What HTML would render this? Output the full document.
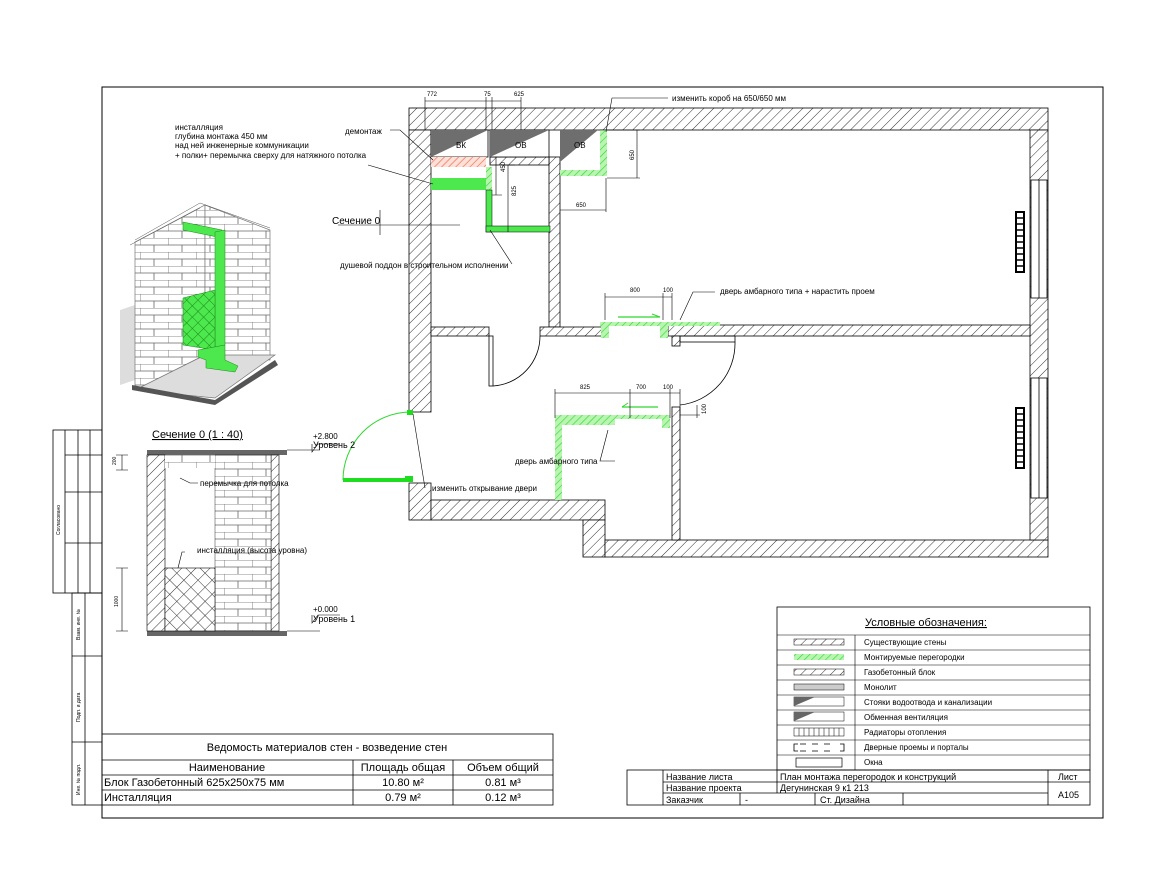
<!DOCTYPE html>
<html><head><meta charset="utf-8"><style>
html,body{margin:0;padding:0;background:#fff}
svg{display:block}
text{font-family:"Liberation Sans","DejaVu Sans",sans-serif;fill:#000}
.s{font-size:9px}
.t{font-size:11px}
</style></head><body>
<svg width="1155" height="893" viewBox="0 0 1155 893" xmlns="http://www.w3.org/2000/svg">
<defs>
<pattern id="h" width="7" height="7" patternUnits="userSpaceOnUse" patternTransform="rotate(45)">
<rect width="7" height="7" fill="#fff"/><line x1="0" y1="0" x2="0" y2="7" stroke="#333" stroke-width="1"/></pattern>
<pattern id="hg" width="5" height="5" patternUnits="userSpaceOnUse" patternTransform="rotate(45)">
<rect width="5" height="5" fill="#b8f5b0"/><line x1="0" y1="0" x2="0" y2="5" stroke="#2ed62e" stroke-width="1.2"/></pattern>
<pattern id="hr" width="5" height="5" patternUnits="userSpaceOnUse" patternTransform="rotate(45)">
<rect width="5" height="5" fill="#fde0d8"/><line x1="0" y1="0" x2="0" y2="5" stroke="#f06040" stroke-width="1.2"/></pattern>
<pattern id="x" width="10" height="10" patternUnits="userSpaceOnUse" patternTransform="rotate(45)">
<rect width="10" height="10" fill="#fff"/><line x1="0" y1="0" x2="0" y2="10" stroke="#333"/><line x1="0" y1="0" x2="10" y2="0" stroke="#333"/></pattern>
<pattern id="xg" width="8" height="8" patternUnits="userSpaceOnUse" patternTransform="rotate(45)">
<rect width="8" height="8" fill="#4de84d"/><line x1="0" y1="0" x2="0" y2="8" stroke="#1a8a1a"/><line x1="0" y1="0" x2="8" y2="0" stroke="#1a8a1a"/></pattern>
<pattern id="br" width="28" height="14" patternUnits="userSpaceOnUse">
<rect width="28" height="14" fill="#fff"/><path d="M0 0H28M0 7H28M0 0V7M14 7V14" stroke="#666" stroke-width="0.8" fill="none"/></pattern>
</defs>

<rect x="102" y="87" width="1001" height="731" fill="none" stroke="#000" stroke-width="1"/>
<g stroke="#000" stroke-width="0.8" fill="none">
<rect x="53" y="430" width="49" height="163"/>
<line x1="65" y1="430" x2="65" y2="593"/><line x1="78" y1="430" x2="78" y2="593"/><line x1="90" y1="430" x2="90" y2="593"/>
<line x1="65" y1="455" x2="102" y2="455"/><line x1="65" y1="492" x2="102" y2="492"/><line x1="65" y1="543" x2="102" y2="543"/>
<rect x="72" y="593" width="30" height="212"/>
<line x1="85" y1="593" x2="85" y2="805"/>
<line x1="72" y1="656" x2="102" y2="656"/><line x1="72" y1="742" x2="102" y2="742"/>
</g>
<text font-size="5" transform="translate(60,535) rotate(-90)">Согласовано</text>
<text font-size="5" transform="translate(80,640) rotate(-90)">Взам. инв. №</text>
<text font-size="5" transform="translate(80,722) rotate(-90)">Подп. и дата</text>
<text font-size="5" transform="translate(80,795) rotate(-90)">Инв. № подл.</text>

<g fill="url(#h)" stroke="#000" stroke-width="0.8">
<rect x="409" y="108" width="639" height="22"/>
<rect x="409" y="130" width="22" height="282"/>
<rect x="409" y="483" width="22" height="37"/>
<rect x="431" y="500" width="174" height="20"/>
<rect x="583" y="520" width="22" height="37"/>
<rect x="605" y="540" width="443" height="17"/>
<rect x="1030" y="130" width="18" height="410"/>
<rect x="549" y="157" width="11" height="170"/>
<rect x="490" y="157" width="59" height="8"/>
<rect x="431" y="327" width="58" height="9"/>
<rect x="540" y="327" width="62" height="9"/>
<rect x="668" y="325" width="362" height="11"/>
<rect x="672" y="336" width="8" height="10"/>
<rect x="672" y="407" width="8" height="133"/>
</g>
<g fill="#fff" stroke="#000" stroke-width="0.8">
<rect x="1031" y="180" width="16" height="118"/><line x1="1039" y1="180" x2="1039" y2="298"/>
<rect x="1031" y="378" width="16" height="120"/><line x1="1039" y1="378" x2="1039" y2="498"/>
</g>
<g fill="#fff" stroke="#000" stroke-width="2">
<rect x="1016" y="212" width="8" height="60"/><rect x="1016" y="408" width="8" height="60"/>
</g>
<g stroke="#000" stroke-width="1.4">
<path d="M1016 218H1024M1016 224H1024M1016 230H1024M1016 236H1024M1016 242H1024M1016 248H1024M1016 254H1024M1016 260H1024M1016 266H1024"/>
<path d="M1016 414H1024M1016 420H1024M1016 426H1024M1016 432H1024M1016 438H1024M1016 444H1024M1016 450H1024M1016 456H1024M1016 462H1024"/>
</g>
<rect x="431" y="130" width="57" height="27" fill="#fff" stroke="#000" stroke-width="0.8"/>
<path d="M431 130H488L431 157Z" fill="#6e6e6e"/>
<text x="456" y="148" font-size="8">ВК</text>
<rect x="490" y="130" width="59" height="27" fill="#fff" stroke="#000" stroke-width="0.8"/>
<path d="M490 130H549L490 157Z" fill="#6e6e6e"/>
<text x="515" y="148" font-size="8">ОВ</text>
<path d="M560 130H598L560 162Z" fill="#6e6e6e"/>
<text x="574" y="148" font-size="8">ОВ</text>
<rect x="431" y="157" width="55" height="10" fill="url(#hr)"/>
<rect x="431" y="178" width="55" height="12" fill="#4de84d"/>
<rect x="486" y="167" width="6" height="24" fill="url(#hg)"/>
<rect x="486" y="190" width="6" height="42" fill="#4de84d" stroke="#000" stroke-width="0.5"/>
<rect x="486" y="226" width="64" height="6" fill="#4de84d" stroke="#000" stroke-width="0.5"/>
<rect x="600" y="130" width="7" height="46" fill="url(#hg)"/>
<rect x="560" y="170" width="47" height="6" fill="url(#hg)"/>
<rect x="600" y="322" width="120" height="4" fill="url(#hg)"/>
<rect x="601" y="324" width="8" height="14" fill="url(#hg)"/>
<rect x="660" y="324" width="8" height="14" fill="url(#hg)"/>
<path d="M618 317H660" stroke="#2ed62e" stroke-width="1.2"/><path d="M652 314L660 317" stroke="#2ed62e"/>
<rect x="555" y="415" width="115" height="4" fill="url(#hg)"/>
<rect x="555" y="418" width="60" height="7" fill="url(#hg)"/>
<rect x="555" y="418" width="7" height="82" fill="url(#hg)"/>
<rect x="662" y="418" width="8" height="10" fill="url(#hg)"/>
<path d="M622 407H658" stroke="#2ed62e" stroke-width="1.2"/><path d="M622 407L628 403" stroke="#2ed62e"/>
<g fill="none" stroke="#000" stroke-width="0.8">
<rect x="489" y="336" width="4" height="50"/>
<path d="M493 386A50 50 0 0 0 540 336"/>
<rect x="680" y="336" width="55" height="6"/>
<path d="M735 342A62 62 0 0 1 680 405"/>
</g>
<path d="M410 412A68 68 0 0 0 343 480" fill="none" stroke="#2ed62e" stroke-width="1"/>
<rect x="343" y="478" width="62" height="4" fill="#1edc1e"/>
<rect x="405" y="476" width="8" height="6" fill="#1edc1e"/>
<rect x="407" y="410" width="6" height="5" fill="#1edc1e"/>

<g stroke="#000" stroke-width="0.6" fill="none">
<path d="M425 101H521M425 97V130M486 97V130M492 97V130M521 97V130"/>
<path d="M496 157V195M492 195H502"/>
<path d="M508 165V232M504 165H515"/>
<path d="M637 130V178M607 178H640M600 130H640"/>
<path d="M560 210H606M606 178V212"/>
<path d="M605 297H672M605 293V320M663 293V320M672 293V320"/>
<path d="M555 393H680M555 389V418M630 389V418M670 389V418M680 389V418"/>
<path d="M680 415H700M697 405V418"/>
</g>
<g font-size="6">
<text x="427" y="96">772</text><text x="484" y="96">75</text><text x="514" y="96">625</text>
<text x="630" y="160" transform="rotate(-90 632 158)">650</text>
<text x="576" y="207">650</text>
<text x="630" y="292">800</text><text x="663" y="292">100</text>
<text x="580" y="389">825</text><text x="636" y="389">700</text><text x="663" y="389">100</text>
<text x="499" y="178" transform="rotate(-90 499 172)">450</text>
<text x="512" y="200" transform="rotate(-90 512 196)">825</text>
<text x="701" y="415" transform="rotate(-90 703 412)">100</text>
</g>

<g stroke="#000" stroke-width="0.6" fill="none">
<path d="M668 98H612L606 132"/>
<path d="M715 292H693L680 320"/>
<path d="M390 130H400L433 160"/>
<path d="M368 165L433 184"/>
<path d="M512 264L490 230"/>
<path d="M615 461H600L608 430"/>
<path d="M425 488L413 414"/>
<path d="M338 225H460M380 210V235"/>
</g>
<g font-size="8">
<text x="672" y="101">изменить короб на 650/650 мм</text>
<text x="720" y="294">дверь амбарного типа + нарастить проем</text>
<text x="345" y="134">демонтаж</text>
<text x="340" y="268">душевой поддон в строительном исполнении</text>
<text x="515" y="464">дверь амбарного типа</text>
<text x="432" y="491">изменить открывание двери</text>
<text x="175" y="130">инсталляция</text>
<text x="175" y="139">глубина монтажа 450 мм</text>
<text x="175" y="148">над ней инженерные коммуникации</text>
<text x="175" y="158">+ полки+ перемычка сверху для натяжного потолка</text>
</g>
<text x="332" y="224" font-size="10">Сечение 0</text>

<g stroke="#777" stroke-width="0.7">
<polygon points="120,310 135,305 135,380 120,385" fill="#ddd" stroke="none"/>
<polygon points="135,242 205,205 205,355 135,390" fill="url(#br)"/>
<polygon points="205,205 270,230 270,360 205,355" fill="url(#br)"/>
<polygon points="135,390 205,355 275,355 215,398" fill="#ddd"/>
<polygon points="132,385 215,400 275,360 278,365 215,405 132,390" fill="#555" stroke="none"/>
</g>
<g stroke="#1a8a1a" stroke-width="0.5">
<polygon points="183,222 222,230 222,238 183,230" fill="#4de84d"/>
<polygon points="215,232 225,230 225,345 215,350" fill="#4de84d"/>
<polygon points="183,298 215,290 215,350 183,345" fill="url(#xg)"/>
<polygon points="198,350 225,345 225,360 238,366 235,372 206,368 206,360 198,357" fill="#4de84d"/>
</g>
<g stroke="#555" stroke-width="0.5" fill="none"><path d="M135 240L200 203L270 228M130 245L200 208"/></g>

<text x="152" y="438" font-size="11" text-decoration="underline">Сечение 0 (1 : 40)</text>
<rect x="147" y="450" width="140" height="5" fill="#666"/>
<rect x="147" y="631" width="140" height="5" fill="#666"/>
<rect x="147" y="455" width="18" height="176" fill="url(#h)" stroke="#000" stroke-width="0.6"/>
<rect x="271" y="455" width="8" height="176" fill="url(#h)" stroke="#000" stroke-width="0.6"/>
<rect x="215" y="455" width="56" height="176" fill="url(#br)" stroke="#000" stroke-width="0.4"/>
<rect x="165" y="455" width="50" height="13" fill="url(#br)" stroke="none"/>
<rect x="165" y="568" width="50" height="63" fill="url(#x)" stroke="#000" stroke-width="0.6"/>
<g stroke="#000" stroke-width="0.6" fill="none">
<path d="M287 450H320M287 631H320"/>
<path d="M122 455V470M116 455H128M116 470H128"/>
<path d="M122 568V631M116 568H128M116 631H128"/>
<path d="M180 478L190 483H198"/>
<path d="M178 568L182 552H185"/>
<path d="M312 444V452L318 444H340M312 615V623L318 615H340"/>
</g>
<text x="116" y="465" font-size="5" transform="rotate(-90 116 465)">200</text>
<text x="118" y="607" font-size="5" transform="rotate(-90 118 607)">1000</text>
<text x="200" y="486" font-size="8">перемычка для потолка</text>
<text x="197" y="553" font-size="8">инсталляция (высота уровна)</text>
<text x="313" y="439" font-size="8">+2.800</text><text x="313" y="448" font-size="9">Уровень 2</text>
<text x="313" y="612" font-size="8">+0.000</text><text x="313" y="622" font-size="9">Уровень 1</text>

<g stroke="#000" stroke-width="0.8" fill="none">
<rect x="102" y="734" width="451" height="71"/>
<line x1="102" y1="760" x2="553" y2="760"/>
<line x1="102" y1="775" x2="553" y2="775"/>
<line x1="102" y1="790" x2="553" y2="790"/>
<line x1="353" y1="760" x2="353" y2="805"/>
<line x1="453" y1="760" x2="453" y2="805"/>
</g>
<text x="327" y="751" class="t" text-anchor="middle">Ведомость материалов стен - возведение стен</text>
<text x="227" y="771" class="t" text-anchor="middle">Наименование</text>
<text x="403" y="771" class="t" text-anchor="middle">Площадь общая</text>
<text x="503" y="771" class="t" text-anchor="middle">Объем общий</text>
<text x="104" y="786" class="t">Блок Газобетонный 625x250x75 мм</text>
<text x="403" y="786" class="t" text-anchor="middle">10.80 м²</text>
<text x="503" y="786" class="t" text-anchor="middle">0.81 м³</text>
<text x="104" y="801" class="t">Инсталляция</text>
<text x="403" y="801" class="t" text-anchor="middle">0.79 м²</text>
<text x="503" y="801" class="t" text-anchor="middle">0.12 м³</text>

<g stroke="#000" stroke-width="0.8" fill="#fff">
<rect x="777" y="607" width="313" height="163"/>
</g>
<g stroke="#000" stroke-width="0.6">
<path d="M777 635H1090M777 650H1090M777 665H1090M777 680H1090M777 695H1090M777 710H1090M777 725H1090M777 740H1090M777 755H1090M855 635V770"/>
</g>
<text x="865" y="626" font-size="11" text-decoration="underline">Условные обозначения:</text>
<rect x="794" y="639" width="50" height="6" fill="url(#h)" stroke="#000" stroke-width="0.5"/>
<rect x="794" y="654" width="50" height="6" fill="url(#hg)"/>
<rect x="794" y="669" width="50" height="6" fill="url(#h)" stroke="#000" stroke-width="0.5"/>
<rect x="794" y="684" width="50" height="6" fill="#ccc" stroke="#000" stroke-width="0.5"/>
<rect x="794" y="697" width="50" height="9" fill="#fff" stroke="#000" stroke-width="0.5"/><path d="M794 697H815L794 706Z" fill="#666"/>
<rect x="794" y="712" width="50" height="9" fill="#fff" stroke="#000" stroke-width="0.5"/><path d="M794 712H815L794 721Z" fill="#666"/>
<rect x="794" y="728" width="50" height="8" fill="#fff" stroke="#000" stroke-width="0.5"/>
<path d="M799 728V736M804 728V736M809 728V736M814 728V736M819 728V736M824 728V736M829 728V736M834 728V736M839 728V736" stroke="#000" stroke-width="0.5"/>
<path d="M798 744H794V751H798M840 744H844V751H840M800 744H806M812 744H818M824 744H830" stroke="#000" stroke-width="0.8" fill="none"/>
<path d="M800 751H806M812 751H818M824 751H830" stroke="#000" stroke-width="0.8"/>
<rect x="796" y="758" width="46" height="9" fill="#fff" stroke="#000" stroke-width="0.7"/>
<g font-size="8">
<text x="864" y="645">Существующие стены</text>
<text x="864" y="660">Монтируемые перегородки</text>
<text x="864" y="675">Газобетонный блок</text>
<text x="864" y="690">Монолит</text>
<text x="864" y="705">Стояки водоотвода и канализации</text>
<text x="864" y="720">Обменная вентиляция</text>
<text x="864" y="735">Радиаторы отопления</text>
<text x="864" y="750">Дверные проемы и порталы</text>
<text x="864" y="765">Окна</text>
</g>

<g stroke="#000" stroke-width="0.8" fill="none">
<rect x="627" y="770" width="463" height="35"/>
<line x1="663" y1="770" x2="663" y2="805"/>
<line x1="663" y1="782" x2="1048" y2="782"/>
<line x1="663" y1="793" x2="1048" y2="793"/>
<line x1="777" y1="770" x2="777" y2="793"/>
<line x1="740" y1="793" x2="740" y2="805"/>
<line x1="815" y1="793" x2="815" y2="805"/>
<line x1="903" y1="793" x2="903" y2="805"/>
<line x1="1048" y1="770" x2="1048" y2="805"/>
<line x1="1048" y1="782" x2="1090" y2="782"/>
</g>
<g font-size="9">
<text x="666" y="780">Название листа</text>
<text x="666" y="791">Название проекта</text>
<text x="666" y="803">Заказчик</text>
<text x="745" y="803">-</text>
<text x="780" y="780">План монтажа перегородок и конструкций</text>
<text x="780" y="791">Дегунинская 9 к1 213</text>
<text x="820" y="803">Ст. Дизайна</text>
<text x="1058" y="780">Лист</text>
<text x="1058" y="798">A105</text>
</g>
</svg>
</body></html>
